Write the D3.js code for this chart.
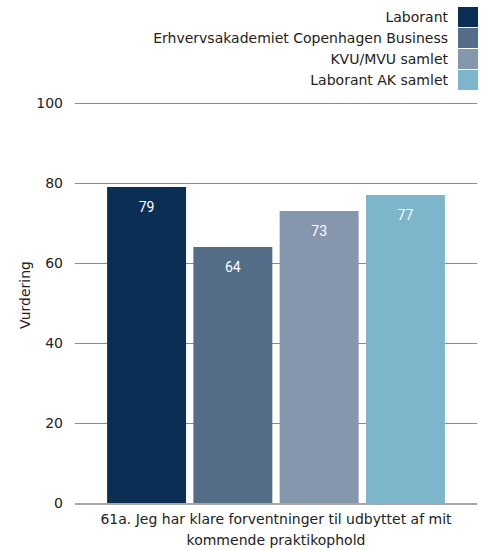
<!DOCTYPE html>
<html><head><meta charset="utf-8">
<script src="https://cdn.jsdelivr.net/npm/d3@7"></script>
<style>body{margin:0;background:#fff}svg{display:block}</style>
</head><body>
<script>
const seriesNames = ["Laborant","Erhvervsakademiet Copenhagen Business","KVU/MVU samlet","Laborant AK samlet"];
const seriesValues = [79, 64, 73, 77];
const seriesColors = ["#0b2e55","#536d89","#8597ad","#7db5ca"];
const categoryLines = ["61a. Jeg har klare forventninger til udbyttet af mit","kommende praktikophold"];
const yTicks = [0,20,40,60,80,100];

const W=489,H=550;
const margin={left:75,right:12,top:103,bottom:47};
const svg=d3.select("body").append("svg").attr("width",W).attr("height",H);
const font="DejaVu Sans, Verdana, sans-serif";

const y=d3.scaleLinear().domain([0,100]).range([H-margin.bottom,margin.top]);
const x0=d3.scaleBand().domain(["c"]).range([margin.left,W-margin.right]).paddingInner(0).paddingOuter(0.095);
const x1=d3.scaleBand().domain(seriesNames).range([x0("c"),x0("c")+x0.bandwidth()]).paddingInner(0.085).paddingOuter(0);

// grid
const g=svg.append("g");
g.selectAll("line.grid").data(yTicks.filter(d=>d>0)).join("line")
 .attr("x1",margin.left).attr("x2",W-margin.right)
 .attr("y1",d=>Math.round(y(d))+0.5).attr("y2",d=>Math.round(y(d))+0.5)
 .attr("stroke","#8a8a8a").attr("stroke-width",1);

// y axis labels
const yAxis=d3.axisLeft(y).tickValues(yTicks).tickSize(0).tickPadding(12);
const ya=svg.append("g").attr("transform",`translate(${margin.left},0)`).call(yAxis);
ya.select(".domain").remove();
ya.selectAll("text").attr("font-family",font).attr("font-size",14).attr("fill","#222");

// bars
svg.selectAll("rect.bar").data(seriesValues).join("rect")
 .attr("x",(d,i)=>x1(seriesNames[i])).attr("width",x1.bandwidth())
 .attr("y",d=>y(d)).attr("height",d=>y(0)-y(d))
 .attr("fill",(d,i)=>seriesColors[i]);

svg.selectAll("text.val").data(seriesValues).join("text")
 .attr("x",(d,i)=>x1(seriesNames[i])+x1.bandwidth()/2)
 .attr("y",d=>y(d)+25)
 .attr("text-anchor","middle").attr("fill","#fff")
 .attr("font-family","Roboto, sans-serif").attr("font-size",14)
 .text(d=>d);

// baseline
svg.append("line").attr("x1",margin.left).attr("x2",W-margin.right)
 .attr("y1",y(0)+1).attr("y2",y(0)+1).attr("stroke","#a8a8a8").attr("stroke-width",2);

// x label
const cx=x0("c")+x0.bandwidth()/2;
svg.append("text").attr("x",cx).attr("y",y(0)+21).attr("text-anchor","middle")
 .attr("font-family",font).attr("font-size",14).attr("fill","#222")
 .selectAll("tspan").data(categoryLines).join("tspan")
 .attr("x",cx).attr("dy",(d,i)=>i?21:0).text(d=>d);

// y title
svg.append("text").attr("transform",`translate(30,${(y(0)+y(100))/2-8}) rotate(-90)`)
 .attr("text-anchor","middle").attr("font-family",font).attr("font-size",14).attr("fill","#222")
 .text("Vurdering");

// legend
const lg=svg.append("g");
seriesNames.forEach((n,i)=>{
  const yy=7+i*21;
  lg.append("rect").attr("x",458).attr("y",yy).attr("width",20).attr("height",20).attr("fill",seriesColors[i]);
  lg.append("text").attr("x",448).attr("y",yy+15).attr("text-anchor","end")
   .attr("font-family",font).attr("font-size",14).attr("fill","#222").text(n);
});
</script>
</body></html>
